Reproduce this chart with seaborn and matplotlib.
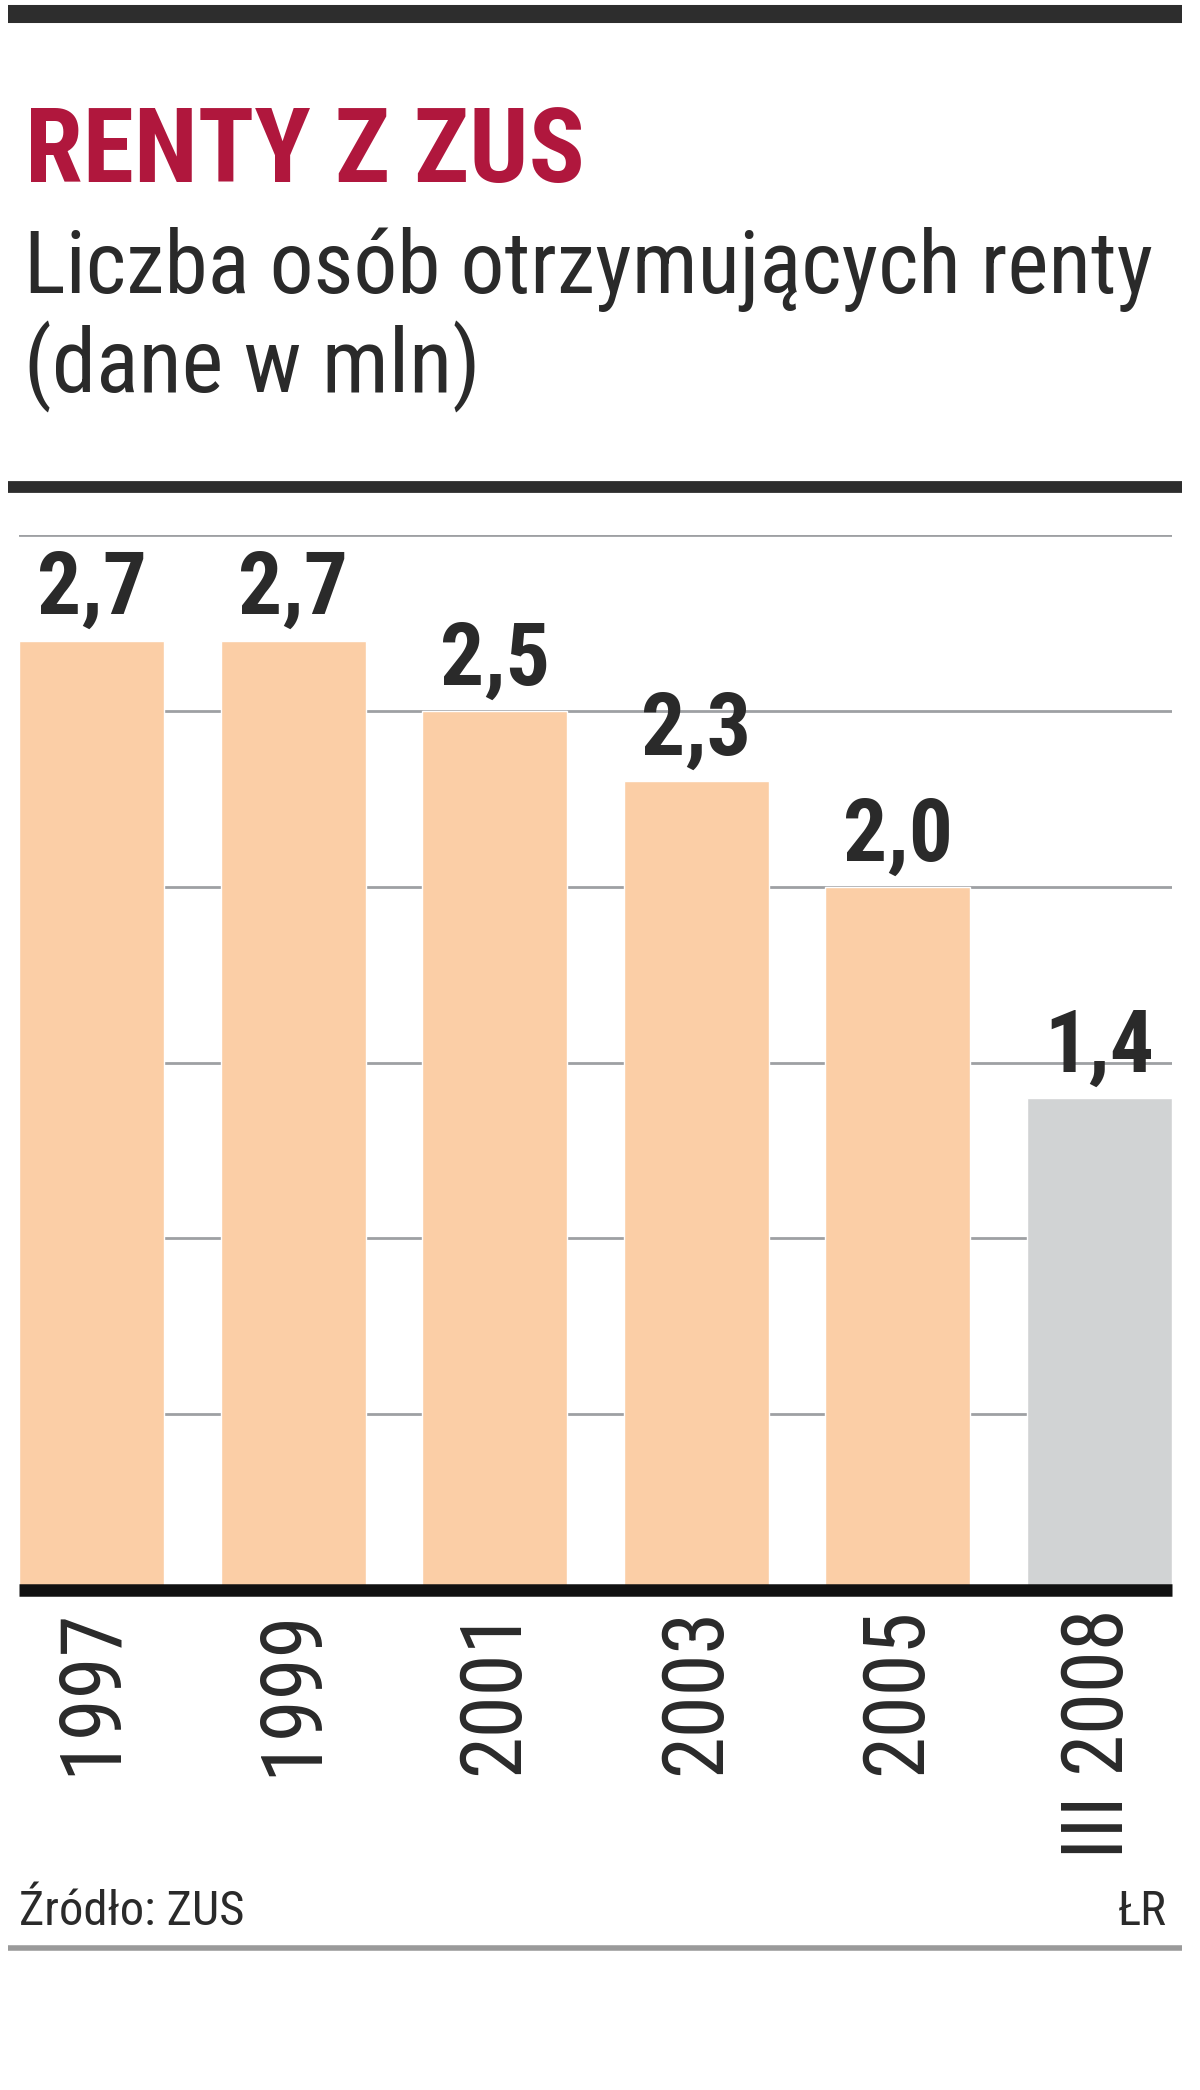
"""
Renty z ZUS - liczba osob otrzymujacych renty (wykres slupkowy).
"""

import matplotlib
matplotlib.use("Agg")
import matplotlib.pyplot as plt
from matplotlib import font_manager as fm
from matplotlib.lines import Line2D
import seaborn as sns
import pandas as pd

# dane
anos = ["1997", "1999", "2001", "2003", "2005", "III 2008"]
renty_mln = [2.7, 2.7, 2.5, 2.3, 2.0, 1.4]
siatka = [0.5, 1.0, 1.5, 2.0, 2.5, 3.0]

CORES = {
    "brzoskw":  "#FBCEA6",
    "szary":    "#D1D3D4",
    "tytul":    "#B0173D",
    "tekst":    "#2A2A2A",
    "linia":    "#2D2D2D",
    "siatka":   "#9EA0A3",
    "stopka":   "#9A9A9A",
}
kolory = [CORES["brzoskw"]] * 5 + [CORES["szary"]]

sns.set_theme(style="white")
nazwy = {f.name for f in fm.fontManager.ttflist}
FONT = next((n for n in ["Roboto Condensed", "Liberation Sans Narrow",
                         "Open Sans Condensed", "Roboto"] if n in nazwy),
            "DejaVu Sans")
plt.rcParams["font.family"] = [FONT, "DejaVu Sans"]

W, H = 1200, 2090


def fx(px):
    return px / W


def fy(py):
    return 1 - py / H


df = pd.DataFrame({"rok": anos, "renty": renty_mln})

fig = plt.figure(figsize=(W / 100, H / 100), dpi=100)
ax = fig.add_axes([fx(19), fy(1590), (1172 - 19) / W, (1590 - 535) / H])

sns.barplot(data=df, x="rok", y="renty", hue="rok", palette=kolory,
            legend=False, width=0.72, saturation=1, ax=ax, zorder=2)

ax.set_xlim(-0.36, 5.36)
ax.set_ylim(0, 3.0)
for s in ax.spines.values():
    s.set_visible(False)
ax.set_yticks([])
ax.set_xlabel("")
ax.set_ylabel("")

for v in siatka:
    ax.axhline(v, color=CORES["siatka"], lw=2, zorder=0)
ax.axhline(0, color="#111111", lw=9, zorder=3, clip_on=False,
           solid_capstyle="butt")

# etykiety wartosci
for p, v in zip(sorted(ax.patches, key=lambda p: p.get_x()), renty_mln):
    ax.annotate(f"{v:.1f}".replace(".", ","),
                xy=(p.get_x() + p.get_width() / 2, p.get_height()),
                xytext=(0, 6), textcoords="offset points",
                ha="center", va="bottom", fontsize=63, fontweight="bold",
                color=CORES["tekst"])

ax.set_xticks(range(len(anos)))
ax.set_xticklabels(anos, rotation=90, fontsize=61, color=CORES["tekst"])
ax.tick_params(axis="x", length=0, pad=13)

# naglowek
fig.text(fx(25), fy(182), "RENTY Z ZUS", fontsize=75, fontweight="bold",
         color=CORES["tytul"], va="baseline")
fig.text(fx(24), fy(293), "Liczba osób otrzymujących renty", fontsize=63,
         color=CORES["tekst"], va="baseline")
fig.text(fx(24), fy(393), "(dane w mln)", fontsize=64,
         color=CORES["tekst"], va="baseline")

# stopka
fig.text(fx(19), fy(1925), "Źródło: ZUS", fontsize=35,
         color=CORES["tekst"], va="baseline")
fig.text(fx(1167), fy(1925), "ŁR", fontsize=35,
         color=CORES["tekst"], va="baseline", ha="right")

# linie poziome
fig.add_artist(Line2D([fx(8), fx(1182)], [fy(14)] * 2, lw=13,
                      color=CORES["linia"], solid_capstyle="butt"))
fig.add_artist(Line2D([fx(8), fx(1182)], [fy(487)] * 2, lw=8.5,
                      color=CORES["linia"], solid_capstyle="butt"))
fig.add_artist(Line2D([fx(8), fx(1182)], [fy(1948)] * 2, lw=4,
                      color=CORES["stopka"], solid_capstyle="butt"))

fig.savefig("out.png", dpi=100)
plt.close(fig)
